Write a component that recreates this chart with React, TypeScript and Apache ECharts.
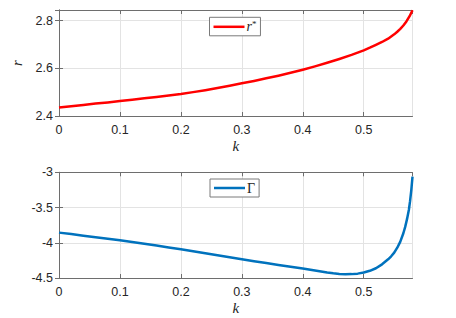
import React, { useEffect, useRef } from "react";
import * as echarts from "echarts";

const kR = [0, 0.02, 0.04, 0.06, 0.08, 0.1, 0.12, 0.14, 0.16, 0.18, 0.2, 0.22, 0.24, 0.26, 0.28, 0.3, 0.32, 0.34, 0.36, 0.38, 0.4, 0.42, 0.44, 0.46, 0.48, 0.5, 0.51, 0.52, 0.53, 0.54, 0.55, 0.555, 0.56, 0.565, 0.57, 0.575, 0.58];
const rStar = [2.436, 2.441, 2.446, 2.452, 2.457, 2.463, 2.468, 2.474, 2.48, 2.486, 2.492, 2.5, 2.508, 2.517, 2.527, 2.537, 2.547, 2.558, 2.569, 2.581, 2.594, 2.608, 2.623, 2.639, 2.656, 2.675, 2.686, 2.698, 2.71, 2.724, 2.742, 2.753, 2.765, 2.779, 2.796, 2.817, 2.843];

const kG = [0, 0.02, 0.04, 0.06, 0.08, 0.1, 0.12, 0.14, 0.16, 0.18, 0.2, 0.22, 0.24, 0.26, 0.28, 0.3, 0.32, 0.34, 0.36, 0.38, 0.4, 0.42, 0.44, 0.45, 0.46, 0.47, 0.48, 0.49, 0.5, 0.51, 0.52, 0.53, 0.54, 0.545, 0.55, 0.555, 0.56, 0.565, 0.568, 0.571, 0.574, 0.576, 0.578, 0.58];
const gamma = [-3.856, -3.877, -3.899, -3.921, -3.943, -3.965, -3.99, -4.015, -4.04, -4.066, -4.092, -4.12, -4.149, -4.177, -4.206, -4.234, -4.261, -4.288, -4.314, -4.34, -4.366, -4.395, -4.423, -4.434, -4.442, -4.447, -4.445, -4.438, -4.423, -4.398, -4.362, -4.306, -4.235, -4.192, -4.14, -4.07, -3.983, -3.865, -3.775, -3.665, -3.535, -3.41, -3.255, -3.06];

const xTicks = { min: 0, max: 0.58, interval: 0.1 };
const rAxis = { min: 2.4, max: 2.844, interval: 0.2 };
const gAxis = { min: -4.5, max: -3, interval: 0.5 };

const AXIS_COLOR = "#6e6e6e";
const GRID_COLOR = "#e3e3e3";
const LABEL_FONT = "'Liberation Sans', Arial, sans-serif";
const SERIF = "'Liberation Serif', 'DejaVu Serif', serif";

export default function App() {
  const ref = useRef<HTMLDivElement>(null);
  useEffect(() => {
    if (!ref.current) return;
    const chart = echarts.init(ref.current, null, { renderer: "svg" });
    const grids = [
      { left: 59, top: 10, width: 353.5, height: 106 },
      { left: 59, top: 172.3, width: 353.5, height: 105.7 },
    ];
    const mkX = (gi: number, pos: "bottom" | "top", primary: boolean) => ({
      type: "value",
      gridIndex: gi,
      position: pos,
      ...xTicks,
      name: primary ? "k" : "",
      nameLocation: "middle",
      nameGap: 22,
      nameTextStyle: { fontFamily: SERIF, fontStyle: "italic", fontSize: 15, color: "#262626" },
      axisLine: { show: true, lineStyle: { color: AXIS_COLOR, width: 1 } },
      axisTick: { show: true, inside: true, length: 4, lineStyle: { color: AXIS_COLOR } },
      axisLabel: {
        show: primary,
        showMaxLabel: false,
        margin: 7,
        fontFamily: LABEL_FONT,
        fontSize: 12.5,
        color: "#262626",
        formatter: (v: number) => (v === 0 ? "0" : v.toFixed(1)),
      },
      splitLine: { show: primary, lineStyle: { color: GRID_COLOR, width: 1 } },
    });
    const mkY = (gi: number, pos: "left" | "right", primary: boolean, rng: any, name: string, dec: (v: number) => string) => ({
      type: "value",
      gridIndex: gi,
      position: pos,
      ...rng,
      name: primary ? name : "",
      nameLocation: "middle",
      nameGap: 30,
      nameRotate: 90,
      nameTextStyle: { fontFamily: SERIF, fontStyle: "italic", fontSize: 15, color: "#262626" },
      axisLine: { show: true, lineStyle: { color: AXIS_COLOR, width: 1 } },
      axisTick: { show: true, inside: true, length: 4, lineStyle: { color: AXIS_COLOR } },
      axisLabel: {
        show: primary,
        showMaxLabel: gi === 1,
        margin: 6,
        fontFamily: LABEL_FONT,
        fontSize: 12.5,
        color: "#262626",
        formatter: dec,
      },
      splitLine: { show: primary, lineStyle: { color: GRID_COLOR, width: 1 } },
    });
    const fmtR = (v: number) => v.toFixed(1);
    const fmtG = (v: number) => String(Math.round(v * 10) / 10);
    chart.setOption({
      animation: false,
      backgroundColor: "#ffffff",
      grid: grids,
      xAxis: [mkX(0, "bottom", true), mkX(0, "top", false), mkX(1, "bottom", true), mkX(1, "top", false)],
      yAxis: [
        mkY(0, "left", true, rAxis, "r", fmtR),
        mkY(0, "right", false, rAxis, "", fmtR),
        mkY(1, "left", true, gAxis, "", fmtG),
        mkY(1, "right", false, gAxis, "", fmtG),
      ],
      legend: [
        {
          data: ["rstar"],
          left: 209.5,
          top: 17.3,
          padding: [2, 4, 2, 4],
          icon: "rect",
          itemWidth: 31,
          itemHeight: 2.5,
          itemGap: 2,
          backgroundColor: "#ffffff",
          borderColor: "#7a7a7a",
          borderWidth: 1,
          borderRadius: 0,
          formatter: () => "{r|r}{s|*}",
          textStyle: {
            padding: [0, 0, 0, -3],
            rich: {
              r: { fontFamily: SERIF, fontStyle: "italic", fontSize: 14, color: "#262626" },
              s: { fontFamily: SERIF, fontSize: 9, color: "#262626", verticalAlign: "top", padding: [0, 0, 6, 0] },
            },
          },
        },
        {
          data: ["Gamma"],
          left: 210,
          top: 179,
          padding: [2, 4, 2, 4],
          icon: "rect",
          itemWidth: 31,
          itemHeight: 2.5,
          itemGap: 2,
          backgroundColor: "#ffffff",
          borderColor: "#7a7a7a",
          borderWidth: 1,
          borderRadius: 0,
          formatter: () => "Γ",
          textStyle: { fontFamily: SERIF, fontSize: 14, color: "#262626", padding: [0, 0, 0, -3] },
        },
      ],
      series: [
        {
          name: "rstar",
          type: "line",
          xAxisIndex: 0,
          yAxisIndex: 0,
          data: kR.map((k, i) => [k, rStar[i]]),
          smooth: false,
          symbol: "none",
          lineStyle: { color: "#ff0000", width: 2.5, join: "round" },
          itemStyle: { color: "#ff0000" },
        },
        {
          name: "Gamma",
          type: "line",
          xAxisIndex: 2,
          yAxisIndex: 2,
          data: kG.map((k, i) => [k, gamma[i]]),
          smooth: false,
          symbol: "none",
          lineStyle: { color: "#0072bd", width: 2.5, join: "round" },
          itemStyle: { color: "#0072bd" },
        },
      ],
    });
    return () => chart.dispose();
  }, []);
  return (
    <div
      ref={ref}
      style={{ position: "fixed", left: 0, top: 0, width: 456, height: 318, background: "#fff" }}
    />
  );
}
